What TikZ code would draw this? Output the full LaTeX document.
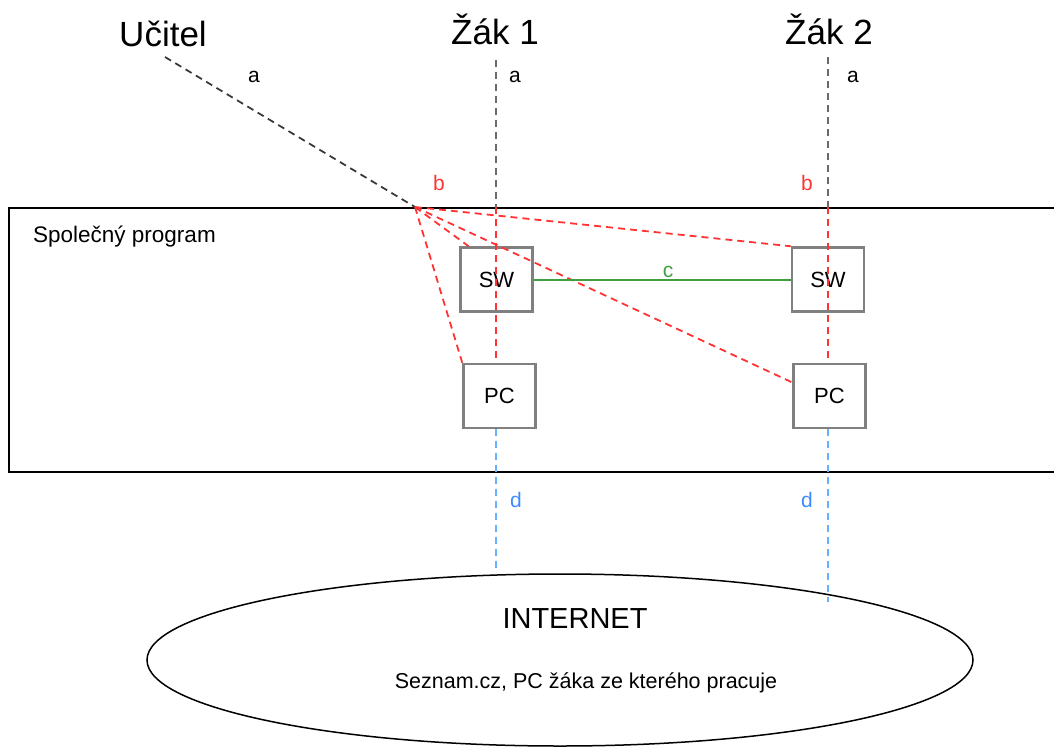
\documentclass[tikz,border=0pt]{standalone}
\usepackage{fontspec}
\setmainfont{Liberation Sans}
\usetikzlibrary{shapes.geometric}
\definecolor{lnred}{HTML}{FF3333}
\definecolor{lngreen}{HTML}{3F9F3F}
\definecolor{lnblue}{HTML}{66B2FF}
\definecolor{txblue}{HTML}{3D8BFF}
\definecolor{boxgray}{HTML}{808080}
\definecolor{lngray}{HTML}{6A6A6A}
\definecolor{lndark}{HTML}{383838}
\begin{document}
\begin{tikzpicture}[x=1pt,y=-1pt]
\tikzstyle{every node}=[inner sep=0pt]
\tikzstyle{dev}=[draw=boxgray, line width=2.5pt, minimum width=72pt, minimum height=64pt, font=\fontsize{22}{26}\selectfont]
\tikzstyle{who}=[anchor=base, font=\fontsize{35}{42}\selectfont]
\tikzstyle{lbl}=[anchor=base, font=\fontsize{21}{25}\selectfont]
\tikzstyle{cable}=[line width=1.8pt, dash pattern=on 7pt off 5pt]
\useasboundingbox (0,0) rectangle (1054,747);
% shared program
  \node[draw, line width=1.5pt, anchor=north west, minimum width=1060pt, minimum height=264pt] (prog) at (8,207) {};
  \node[anchor=base west, font=\fontsize{22.5}{27}\selectfont] (progname) at (33,242) {Společný program};
% people
  \node[who] (ucitel) at (163,46) {Učitel};
  \node[who] (zak1) at (495,44) {Žák 1};
  \node[who] (zak2) at (829,44) {Žák 2};
% devices
  \node[dev] (sw1) at (496.5,279.5) {SW};
  \node[dev] (pc1) at (499.5,396) {PC};
  \node[dev] (sw2) at (828,279.5) {SW};
  \node[dev] (pc2) at (829.5,396) {PC};
% internet
  \node[draw, line width=1.5pt, ellipse, minimum width=826pt, minimum height=172pt] (net) at (560,660) {};
  \node[anchor=base, font=\fontsize{29}{34}\selectfont] (nettitle) at (575,628) {INTERNET};
  \node[anchor=base, font=\fontsize{21.5}{26}\selectfont] (nettext) at (586,688) {Seznam.cz, PC žáka ze kterého pracuje};
%%%%%%%%%%%%%%%%
\coordinate (uc) at (165,57);
\coordinate (hub) at (415,207);
\coordinate (a1) at (496,60);
\coordinate (b1) at (496,207);
\coordinate (a2) at (828,57);
\coordinate (b2) at (828,207);
\coordinate (d2) at (828,602);
\draw[cable, lndark] (uc) -- (hub);
\draw[cable, lngray] (a1) -- (b1);
\draw[cable, lngray] (a2) -- (b2);
\draw[cable, lnred] (b1) -- (b1 |- pc1.north);
\draw[cable, lnred] (b2) -- (b2 |- pc2.north);
\draw[cable, lnred] (hub) -- (sw1.130);
\draw[cable, lnred] (hub) -- (sw2.north west);
\draw[cable, lnred] (hub) -- (pc1.north west);
\draw[cable, lnred] (hub) -- (pc2.160);
\draw[line width=2pt, draw=lngreen] (sw1.east) -- (sw2.west);
\draw[cable, lnblue] (b1 |- pc1.south) -- (b1 |- net.north);
\draw[cable, lnblue] (b2 |- pc2.south) -- (d2);
% labels
  \node[lbl] (la0) at (254,82) {a};
  \node[lbl] (la1) at (515,82) {a};
  \node[lbl] (la2) at (853,82) {a};
  \node[lbl, lnred] (lb1) at (439,190) {b};
  \node[lbl, lnred] (lb2) at (807,190) {b};
  \node[lbl, lngreen] (lc) at (668,277) {c};
  \node[lbl, txblue] (ld1) at (516,507) {d};
  \node[lbl, txblue] (ld2) at (807,507) {d};
\end{tikzpicture}
\end{document}
